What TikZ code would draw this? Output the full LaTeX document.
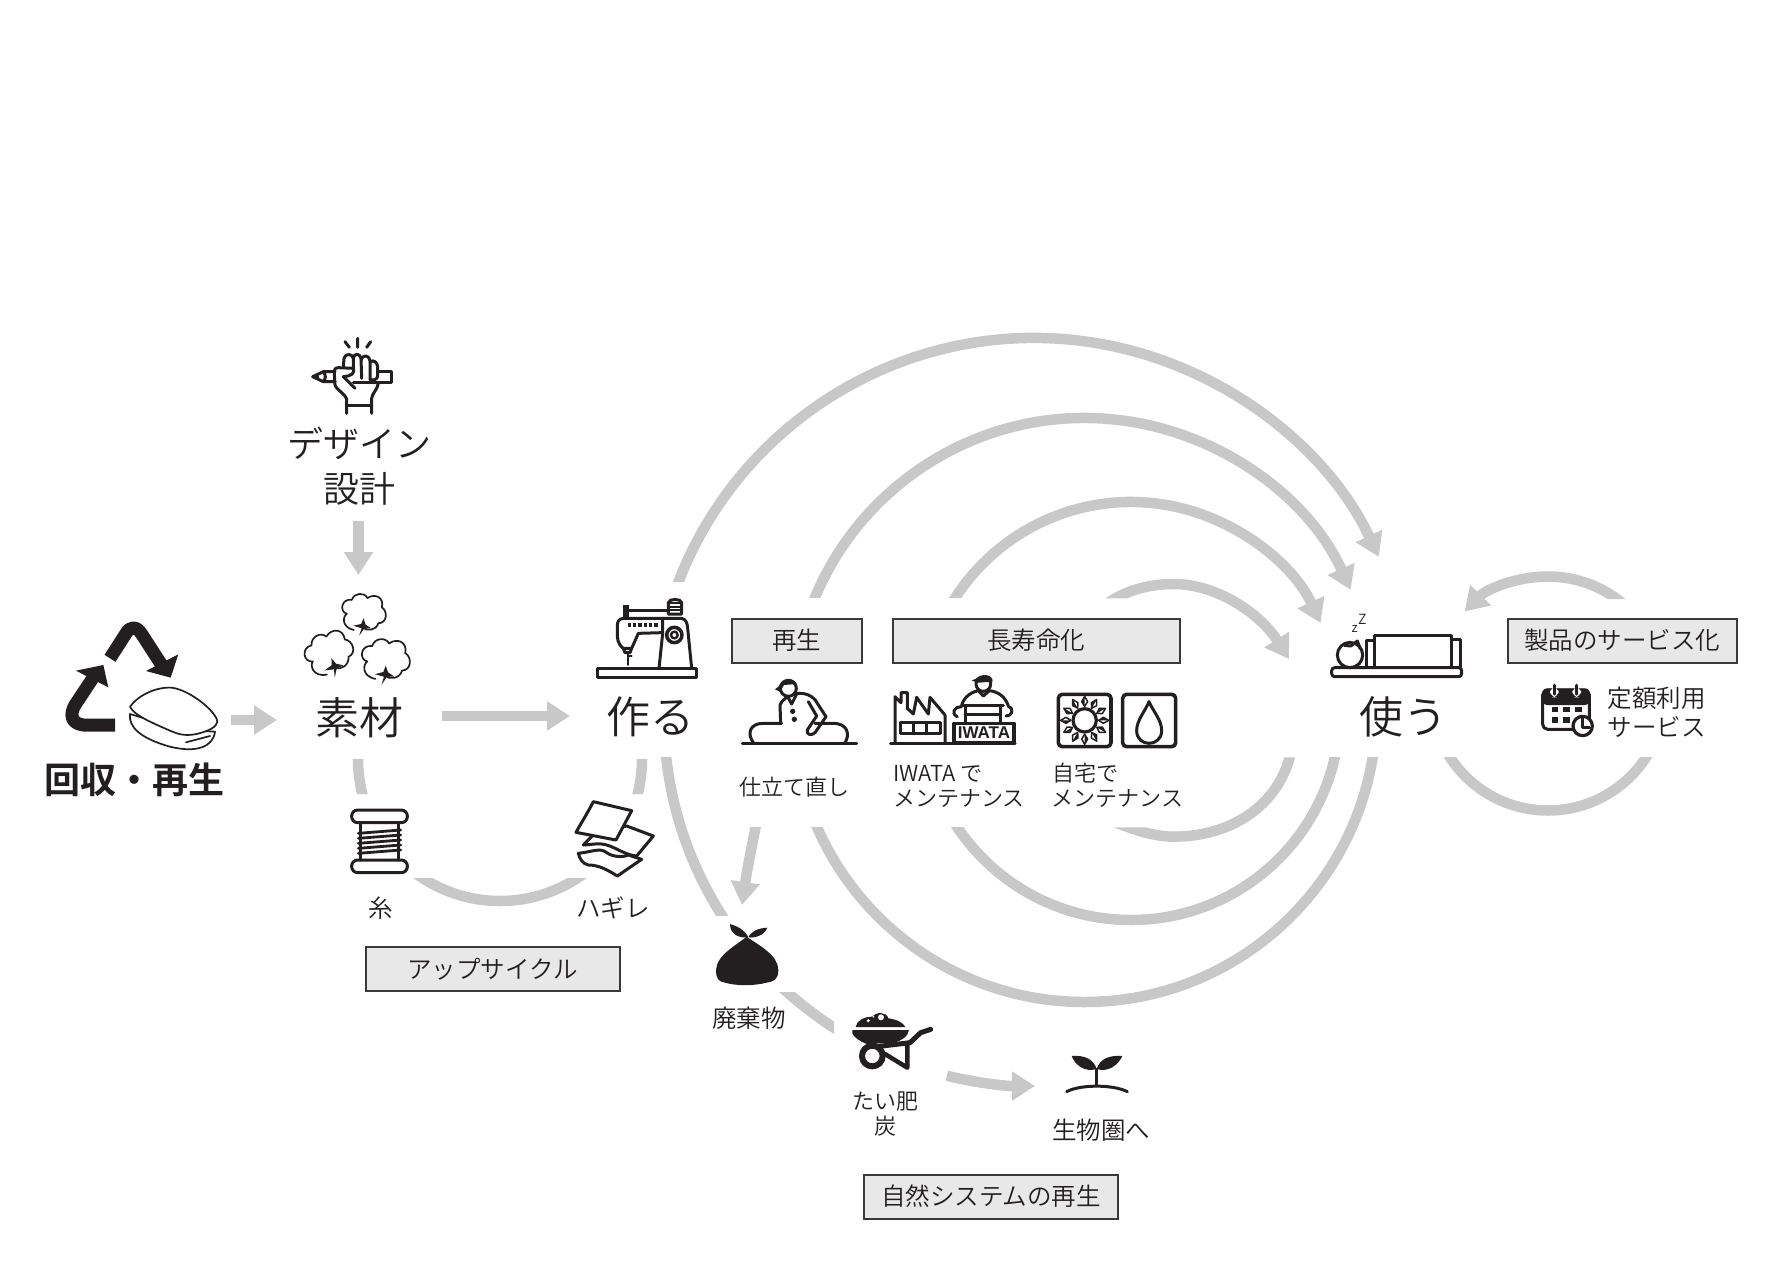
\documentclass[tikz,border=0pt]{standalone}
\usepackage{fontspec}
\usetikzlibrary{arrows.meta}
\IfFontExistsTF{Noto Sans CJK JP DemiLight}{\setmainfont{Noto Sans CJK JP DemiLight}[BoldFont=Noto Sans CJK JP Bold]}{\IfFontExistsTF{Noto Sans CJK JP Light}{\setmainfont{Noto Sans CJK JP Light}[BoldFont=Noto Sans CJK JP Bold]}{\setmainfont{Noto Sans CJK JP}}}
\newfontfamily\logofont{Liberation Sans}
\definecolor{flow}{HTML}{C8C8C8}
\definecolor{ink}{HTML}{231F20}
\definecolor{boxfill}{HTML}{E8E8E8}
\definecolor{boxline}{HTML}{3A3A3A}
\newcommand\fs[1]{\fontsize{#1}{#1}\selectfont}
\newcommand\lbl[1]{\raisebox{-2.5pt}{#1}}
\newcommand\clipup[2]{\clip (0,-#2) rectangle (#1,0) (#1,-900) rectangle (1790,0);}
\newcommand\cliplow[3]{\clip (0,-#2) rectangle (#1,-1276) (#1,-#3) rectangle (1790,-1276);}
\tikzset{
  x=1pt,y=1pt,
  flowline/.style={line width=10.5pt,draw=flow},
  flowhead/.style={flowline,-{Triangle[length=23pt,width=28pt]}},
  txt/.style={text=ink,inner sep=0pt,align=center},
  txtl/.style={text=ink,inner sep=0pt,anchor=west},
  tag/.style={draw=boxline,line width=2pt,fill=boxfill,minimum height=44pt,inner sep=0pt,text=ink,font=\fs{24.5}},
  zm/.style 2 args={shift={(#1,-#2)},x=0.33333pt,y=-0.33333pt},
  ic/.style={draw=ink,line width=3pt,line join=round,line cap=round},
  icthin/.style={draw=ink,line width=1.7pt,line join=round,line cap=round},
  icfill/.style={fill=ink,draw=none},
}
\begin{document}
\begin{tikzpicture}
\useasboundingbox (0,0) rectangle (1790,-1276);
% ---------- circle centres
\coordinate (c1) at (1034,-719);
\coordinate (c2) at (1084.5,-710);
\coordinate (c3) at (1131,-711);
\coordinate (c5) at (1033,-717);
\coordinate (c6) at (1548,-693.5);
\coordinate (c7) at (500,-759);
% ---------- upper arcs into "use"
\begin{scope}\clipup{1034}{582}\draw[flowhead] ([shift={(165:381)}]c1) arc[start angle=165,end angle=25.2,radius=381];\end{scope}
\begin{scope}\clipup{1084}{598}\draw[flowhead] ([shift={(170:292)}]c2) arc[start angle=170,end angle=24.3,radius=292];\end{scope}
\begin{scope}\clipup{1130}{598}\draw[flowhead] ([shift={(165:209)}]c3) arc[start angle=165,end angle=24.9,radius=209];\end{scope}
\begin{scope}[zm={1080}{560}]
\clip (0,115) rectangle (280,-60) (280,-60) rectangle (700,320);
\coordinate (u4s) at (75,135);\coordinate (u4e) at (627,297);
\draw[flowhead] (u4s) .. controls (130,95) and (200,72) .. (280,72) .. controls (410,72) and (540,160) .. (u4e);
\end{scope}
% ---------- lower arcs
\begin{scope}\cliplow{1084}{827}{757}\draw[flowline] ([shift={(0:292)}]c2) arc[start angle=0,end angle=-175,radius=292];\end{scope}
\begin{scope}\cliplow{1130}{827}{757}\draw[flowline] ([shift={(0:209)}]c3) arc[start angle=0,end angle=-175,radius=209];\end{scope}
\begin{scope}[zm={1080}{560}]
\clip (0,802) rectangle (280,900) (280,592) rectangle (700,900);
\coordinate (l4s) at (636,560);\coordinate (l4e) at (95,782);
\draw[flowline] (l4s) .. controls (610,720) and (470,830) .. (280,830) .. controls (225,830) and (160,810) .. (l4e);
\end{scope}
% ---------- waste route
\begin{scope}\clip (0,-757) rectangle (1790,-915);\draw[flowline] ([shift={(180:369)}]c5) arc[start angle=180,end angle=240,radius=369];\end{scope}
\begin{scope}\clip (0,-992) rectangle (834,-1276);\draw[flowline] ([shift={(225:369)}]c5) arc[start angle=225,end angle=255,radius=369];\end{scope}
\draw[flowhead] ([shift={(-103.5:369)}]c5) arc[start angle=-103.5,end angle=-89.7,radius=369];
\coordinate (w1) at (758,-815);
\coordinate (w2) at (742,-905);
\begin{scope}\clip (0,-827) rectangle (1790,-1276);\draw[flowhead] (w1) .. controls (752,-845) and (747,-870) .. (w2);\end{scope}
% ---------- upcycle arc
\begin{scope}\clip (0,-757) rectangle (1790,-794) (0,-878) rectangle (1790,-1276);\draw[flowline] ([shift={(180:142)}]c7) arc[start angle=180,end angle=360,radius=142];\end{scope}
% ---------- service loop
\begin{scope}\clip (1400,-757) rectangle (1790,-1000);\draw[flowline] ([shift={(0:117)}]c6) arc[start angle=0,end angle=-180,radius=117];\end{scope}
\begin{scope}\clip (1400,-700) rectangle (1548,-500) (1548,-599) rectangle (1790,-500);\draw[flowhead] ([shift={(30:117)}]c6) arc[start angle=30,end angle=135.5,radius=117];\end{scope}
% ---------- straight arrows
\coordinate (a1s) at (358.5,-521);\coordinate (a1e) at (358.5,-575);
\coordinate (a2s) at (231,-720);\coordinate (a2e) at (277,-720);
\coordinate (a3s) at (442,-716);\coordinate (a3e) at (570,-716);
\draw[flowhead] (a1s) -- (a1e);
\draw[flowhead] (a2s) -- (a2e);
\draw[flowhead] (a3s) -- (a3e);
% ---------- boxes
\node[tag,minimum width=130pt] (bregen) at (796.5,-640.5) {\lbl{再生}};
\node[tag,minimum width=287pt] (blife) at (1036,-640.5) {\lbl{長寿命化}};
\node[tag,minimum width=229pt] (bserv) at (1622,-640.5) {\lbl{製品のサービス化}};
\node[tag,minimum width=254pt] (bup) at (492.5,-969) {\lbl{アップサイクル}};
\node[tag,minimum width=254pt] (bnat) at (991,-1196.5) {\lbl{自然システムの再生}};
% ---------- main labels
\node[txt,font=\fs{36}] (tdesign) at (359,-443) {デザイン};
\node[txt,font=\fs{36}] (tplan) at (359,-489) {設計};
\node[txt,font=\fs{44}] (tmat) at (359,-718) {素材};
\node[txt,font=\fs{44}] (tmake) at (650,-717) {作る};
\node[txt,font=\fs{44}] (tuse) at (1403,-717) {使う};
\node[txt,font=\fs{36}\bfseries] (trec) at (134,-780) {回収・再生};
\node[txt,font=\fs{24.5}] (tthread) at (380.5,-908) {糸};
\node[txt,font=\fs{24.5}] (tscrap) at (613,-908) {ハギレ};
\node[txt,font=\fs{24.5}] (twaste) at (749,-1018.5) {廃棄物};
\node[txt,font=\fs{22}] (tcomp) at (885,-1101) {たい肥};
\node[txt,font=\fs{22}] (tcoal) at (885.5,-1126) {炭};
\node[txt,font=\fs{24.5}] (tbio) at (1101,-1130.5) {生物圏へ};
\node[txt,font=\fs{22}] (trepair) at (794,-787) {仕立て直し};
\node[txtl,font=\fs{22}] (tiwa) at (893,-773.5) {IWATA で};
\node[txtl,font=\fs{22}] (tmnt1) at (893,-798.5) {メンテナンス};
\node[txtl,font=\fs{22}] (thome) at (1052,-773.5) {自宅で};
\node[txtl,font=\fs{22}] (tmnt2) at (1051.5,-798.5) {メンテナンス};
\node[txtl,font=\fs{24.5}] (tfee) at (1607.5,-698.5) {定額利用};
\node[txtl,font=\fs{24.5}] (tsvc) at (1607.5,-727) {サービス};
% ---------- hand with pen
\begin{scope}[zm={290}{330}]
\draw[ic] (203,25)--(203,52) (165,35)--(178,52) (242,35)--(230,52);
\draw[ic] (135,125)--(100,125)--(68,140)--(100,155)--(135,155);
\draw[ic] (100,125)..controls(108,135)and(108,145)..(100,155);
\fill[ink] (68,140)--(85,132)--(88,148)--cycle;
\draw[ic] (262,123)--(305,123)--(305,157)--(190,157);
\draw[ic] (160,112)--(162,85)..controls(165,70)and(188,70)..(190,85)--(190,118);
\draw[ic] (190,85)..controls(192,68)and(210,70)..(213,85)--(215,145);
\draw[ic] (213,90)..controls(218,72)and(238,75)..(240,92)--(240,148);
\draw[ic] (240,95)..controls(252,88)and(262,98)..(263,110)--(263,138)..controls(262,150)and(248,152)..(240,148);
\draw[ic] (190,115)--(145,113)..controls(135,113)and(132,120)..(133,130)--(135,165)..controls(140,180)and(170,195)..(170,210)--(170,250);
\draw[ic] (190,115)..controls(195,130)and(185,138)..(160,140)--(195,175);
\draw[ic] (245,250)--(245,205)..controls(246,190)and(262,180)..(265,160);
\draw[ic] (170,225)--(245,225);
\end{scope}
% ---------- cotton
\newcommand\cottonball[4]{%
\begin{scope}[shift={(#1,#2)},rotate=#3,x=#4pt,y=#4pt]
\draw[icthin,fill=white] (-10,-20)..controls(-26,-18)and(-24,-4)..(-20,-2)..controls(-30,0)and(-28,16)..(-16,15)..controls(-14,24)and(-2,26)..(2,19)..controls(10,26)and(22,22)..(20,10)..controls(28,6)and(28,-8)..(18,-9)..controls(16,-18)and(6,-20)..(0,-16);
\fill[ink] (-3,-26)--(-1,-17)--(-11,-15)--(-2,-12)--(0,-5)--(3,-12)--(10,-16)--(2,-17)--cycle;
\end{scope}}
\cottonball{364}{-614}{-6}{0.85}
\cottonball{330}{-654}{18}{0.93}
\cottonball{386}{-661}{-4}{0.93}
% ---------- recycle and pillow
\begin{scope}[zm={50}{610}]
\draw[ink,line width=13pt,line join=round] (180,145)--(228,70)..controls(240,48)and(260,48)..(275,72)--(335,165);
\fill[ink] (288,183)--(385,133)--(362,203)--cycle;
\draw[ink,line width=13pt,line join=round] (195,345)--(100,345)..controls(60,340)and(60,310)..(75,285)--(128,205);
\fill[ink] (78,182)--(160,165)--(175,232)--cycle;
\draw[icthin,fill=white] (240,312)..controls(235,350)and(270,385)..(360,410)..controls(440,430)and(490,410)..(495,365)--(400,360)--cycle;
\draw[icthin,fill=white] (240,290)..controls(265,255)and(320,230)..(365,233)..controls(420,240)and(500,305)..(502,335)..controls(500,350)and(480,362)..(440,372)..controls(400,380)and(380,370)..(360,362)..controls(310,340)and(250,315)..(240,290)--cycle;
\draw[icthin] (408,397)--(480,378);
\end{scope}
% ---------- sewing machine
\begin{scope}[zm={580}{590}]
\draw[ic] (52,235) rectangle (350,262);
\draw[ic] (237,235)--(248,130)--(248,85);
\draw[ic] (248,85)--(305,85)..controls(318,88)and(322,100)..(323,115)--(335,235);
\draw[ic] (248,85)--(130,85)..controls(115,87)and(112,95)..(112,110)--(112,140)..controls(113,160)and(125,172)..(130,175)--(155,175)--(175,130)--(246,128);
\draw[ic] (130,175)--(135,188)--(150,188)--(155,175);
\draw[icthin] (143,190)--(143,225) (143,197)--(155,197);
\draw[ic] (143,60)--(265,60);
\fill[ink] (130,45) rectangle (147,85);
\draw[ic] (265,72)--(265,38)..controls(267,25)and(303,25)..(305,38)--(305,72)--cycle;
\draw[icthin] (265,40)--(305,40) (265,50)--(305,50) (265,60)--(305,60);
\draw[ink,line width=3.5pt] (283,135) circle[radius=23];
\draw[ink,line width=2.4pt] (283,135) circle[radius=10];
\foreach \px in {148,164,180,196,212,228}{\fill[ink] (\px-5,100) rectangle (\px+5,110);}
\end{scope}
% ---------- spool and scraps
\begin{scope}[zm={330}{770}]
\draw[ic,rounded corners=6pt] (65,120) rectangle (232,158);
\draw[ic,rounded corners=6pt] (65,270) rectangle (232,308);
\draw[ic] (92,158)--(92,270) (206,158)--(206,270);
\foreach \py in {185,200,215,230,245}{\draw[ink,line width=2.8pt,line cap=round] (85,\py+5)--(212,\py-5);}
\draw[ic,fill=white] (745,250)..controls(790,245)and(810,232)..(830,248)..controls(850,262)and(880,262)..(895,255)--(935,268)--(862,318)..controls(830,298)and(805,285)..(775,285)..controls(758,282)and(748,265)..(745,250)--cycle;
\draw[ic,fill=white] (795,190)--(890,168)--(970,198)--(920,258)..controls(880,255)and(850,225)..(815,222)..controls(795,220)and(775,225)..(760,225)--cycle;
\draw[ic,fill=white] (790,95)--(905,122)--(858,210)--(738,187)..controls(750,165)and(775,125)..(790,95)--cycle;
\end{scope}
% ---------- repair, factory, sun, drop
\begin{scope}[zm={700}{560}]
\draw[ic] (127,551)--(470,551);
\draw[ic] (160,548)..controls(140,520)and(150,490)..(190,490)--(245,490);
\draw[ic] (345,490)--(395,490)..controls(445,488)and(450,525)..(435,548);
\draw[ic] (242,490)--(240,435)..controls(245,420)and(262,410)..(280,402)..controls(310,395)and(340,405)..(352,430)--(378,470)--(345,518)..controls(335,528)and(318,525)..(322,510)--(350,468)--(325,425);
\draw[ic,fill=white] (265,385) circle[radius=24];
\fill[ink] (225,388)--(250,368)..controls(265,352)and(285,358)..(290,372)--(252,375)--(240,395)--cycle;
\draw[ic] (262,408)--(275,432)--(290,402);
\fill[ink] (278,454) circle[radius=8] (283,478) circle[radius=8];
\draw[ic] (572,551)--(945,551);
\draw[ic] (585,548)--(585,410)--(603,428)--(603,398)--(622,398)--(622,445)--(640,462)--(650,412)--(685,462)--(690,412)--(735,465)--(735,548);
\draw[ic] (600,487) rectangle (720,520) (640,487)--(640,520) (680,487)--(680,520);
\draw[ic] (785,435)..controls(795,405)and(820,395)..(835,392)--(850,408)--(868,392)..controls(895,395)and(915,410)..(925,437);
\draw[ic] (772,470)..controls(750,460)and(765,438)..(785,440) (925,440)..controls(945,445)and(935,470)..(918,468);
\draw[ic,fill=white] (850,372) circle[radius=22];
\fill[ink] (815,362)--(845,348)..controls(865,340)and(880,352)..(878,365)--(835,368)--cycle;
\draw[ic] (785,437)--(910,437) (795,463)--(900,463) (795,437)--(795,488) (900,437)--(900,488);
\draw[ic,line width=3.4pt,fill=white] (762,490) rectangle (942,548);
\node[inner sep=0pt,text=ink,font=\logofont\fs{17}\bfseries] (tiwatalogo) at (852,519) {IWATA};
\draw[ic,line width=3.6pt,rounded corners=4pt] (1075,403) rectangle (1233,560);
\draw[ic,line width=3.6pt,rounded corners=4pt] (1268,403) rectangle (1427,560);
\draw[ic,line width=3.2pt] (1154,481) circle[radius=35];
\foreach \ang in {0,30,...,330}{%
  \begin{scope}[shift={(1154,481)},rotate=\ang]
  \fill[ink] (42,0)--(56,-9)--(72,0)--cycle;
  \draw[ink,line width=1.5pt,line join=round] (42,0)--(56,-9)--(72,0)--(56,9)--cycle;
  \end{scope}}
\draw[ic,line width=3pt] (1347,425)..controls(1335,455)and(1310,480)..(1310,512)..controls(1310,538)and(1330,550)..(1347,550)..controls(1365,550)and(1385,538)..(1385,512)..controls(1385,480)and(1360,455)..(1347,425)--cycle;
\end{scope}
% ---------- sleeping and calendar
\begin{scope}[zm={1280}{540}]
\draw[ic,rounded corners=3pt] (155,383) rectangle (545,410);
\draw[ic] (210,345) circle[radius=38];
\draw[ic] (193,316)--(212,318)--(232,303)--(240,325);
\draw[ic] (258,381)--(258,300)--(283,300);
\draw[ic] (283,381)--(283,285)--(513,285)--(513,381)--cycle;
\draw[ic] (513,297)--(540,297)--(540,381);
\node[inner sep=0pt,text=ink,font=\fs{13}] (tz1) at (224,268) {z};
\node[inner sep=0pt,text=ink,font=\fs{14}] (tz2) at (247,238) {Z};
\fill[ink,rounded corners=4pt] (788,445) rectangle (928,495);
\draw[ic,rounded corners=5pt] (788,450) rectangle (928,568);
\fill[white,rounded corners=7pt] (810,440) rectangle (836,472) (877,440) rectangle (903,472);
\draw[ic,line width=3.4pt] (823,436)--(823,462) (890,436)--(890,462);
\foreach \px/\py in {815/500,850/500,885/500,815/532,850/532}{\fill[ink] (\px,\py) rectangle (\px+20,\py+17);}
\draw[ic,fill=white,line width=3.2pt] (908,558) circle[radius=29];
\draw[ic] (908,535)--(908,562)--(928,562);
\end{scope}
% ---------- bag, barrow, sprout
\begin{scope}[zm={680}{900}]
\fill[ink] (108,210)..controls(110,165)and(170,135)..(200,110)..controls(235,135)and(295,165)..(295,210)..controls(295,240)and(280,245)..(260,248)..controls(220,258)and(170,258)..(135,248)..controls(115,245)and(108,235)..(108,210)--cycle;
\fill[ink] (205,112)..controls(180,115)and(150,105)..(150,72)..controls(175,80)and(195,90)..(205,112)--cycle;
\fill[ink] (205,112)..controls(225,115)and(255,105)..(262,83)..controls(235,85)and(215,92)..(205,112)--cycle;
\fill[ink] (527,381)..controls(530,360)and(555,350)..(575,350)..controls(590,335)and(620,335)..(625,355)..controls(650,358)and(670,368)..(676,381)--cycle;
\fill[white] (603,352) circle[radius=9] (565,362) circle[radius=5] (580,350) circle[radius=3];
\fill[ink] (517,390)--(687,390)..controls(685,410)and(660,425)..(640,428)--(560,432)..controls(540,425)and(520,410)..(517,400)--cycle;
\draw[ink,line width=6pt] (577,468) circle[radius=31];
\draw[ink,line width=5pt,line cap=round,line join=round] (590,440)--(690,428)--(722,398)--(752,388);
\draw[ink,line width=4.5pt,line cap=round,line join=round] (615,462)--(682,503)--(682,432);
\fill[ink] (1250,507)..controls(1240,475)and(1210,465)..(1175,468)..controls(1185,495)and(1215,518)..(1250,507)--cycle;
\fill[ink] (1250,507)..controls(1260,475)and(1290,465)..(1327,468)..controls(1315,495)and(1285,518)..(1250,507)--cycle;
\draw[ink,line width=2.8pt] (1250,505)--(1250,558);
\draw[ink,line width=3pt,line cap=round] (1160,575)..controls(1200,553)and(1300,553)..(1342,575);
\end{scope}
\end{tikzpicture}
\end{document}
